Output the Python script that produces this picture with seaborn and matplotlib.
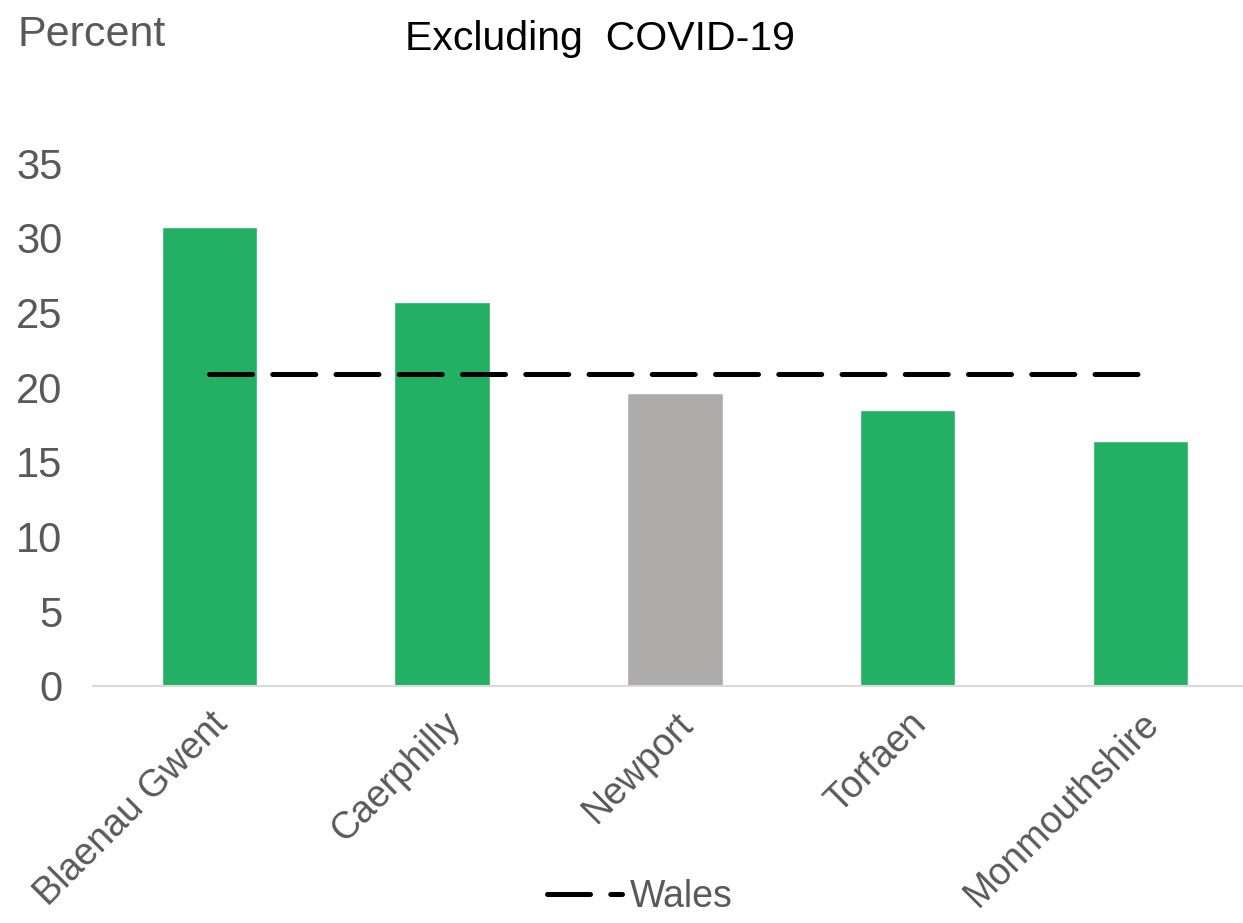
import matplotlib
matplotlib.use("Agg")
import matplotlib.pyplot as plt
import seaborn as sns
import pandas as pd

# values
areas = ["Blaenau Gwent", "Caerphilly", "Newport", "Torfaen", "Monmouthshire"]
percent = [30.7, 25.7, 19.6, 18.5, 16.4]
wales = [20.9, 20.9, 20.9, 20.9, 20.9]
bar_colors = ["#23B064", "#23B064", "#AEABAB", "#23B064", "#23B064"]
y_ticks = [0, 5, 10, 15, 20, 25, 30, 35]

df = pd.DataFrame({"area": areas, "percent": percent, "wales": wales})

sns.set_style("white")
plt.rcParams["font.family"] = ["Liberation Sans", "DejaVu Sans"]
grey = "#595959"

fig = plt.figure(figsize=(12.43, 9.23), dpi=100)
ax = fig.add_axes([0.0748, 0.2568, 0.9252, 0.5666])

sns.barplot(data=df, x="area", y="percent", hue="area", palette=bar_colors,
            width=0.41, legend=False, saturation=1, ax=ax)
ax.plot(df["area"], df["wales"], color="black", lw=3.6, ls=(0, (8.6, 4.05)),
        dash_capstyle="round", label="Wales")

ax.set_ylim(0, 35)
ax.set_xlim(-0.5, 4.44)
ax.set_yticks(y_ticks)
ax.set_xlabel("")
ax.set_ylabel("")
for s in ["top", "right", "left"]:
    ax.spines[s].set_visible(False)
ax.spines["bottom"].set_color("#D9D9D9")
ax.spines["bottom"].set_linewidth(1.5)
ax.tick_params(axis="y", labelsize=30, labelcolor=grey, length=0, pad=22)
ax.tick_params(axis="x", labelsize=27, labelcolor=grey, length=0, pad=14)
plt.setp(ax.get_xticklabels(), rotation=45, ha="right", rotation_mode="anchor")

fig.text(0.014, 0.962, "Percent", fontsize=31, color=grey, va="center")
fig.text(0.483, 0.958, "Excluding  COVID-19", fontsize=29.5, color="black",
         ha="center", va="center")

fig.legend(loc="center", bbox_to_anchor=(0.515, 0.028), frameon=False,
           fontsize=27, labelcolor=grey, handlelength=2.0, handletextpad=0.2)

fig.savefig("out.png", dpi=100)
